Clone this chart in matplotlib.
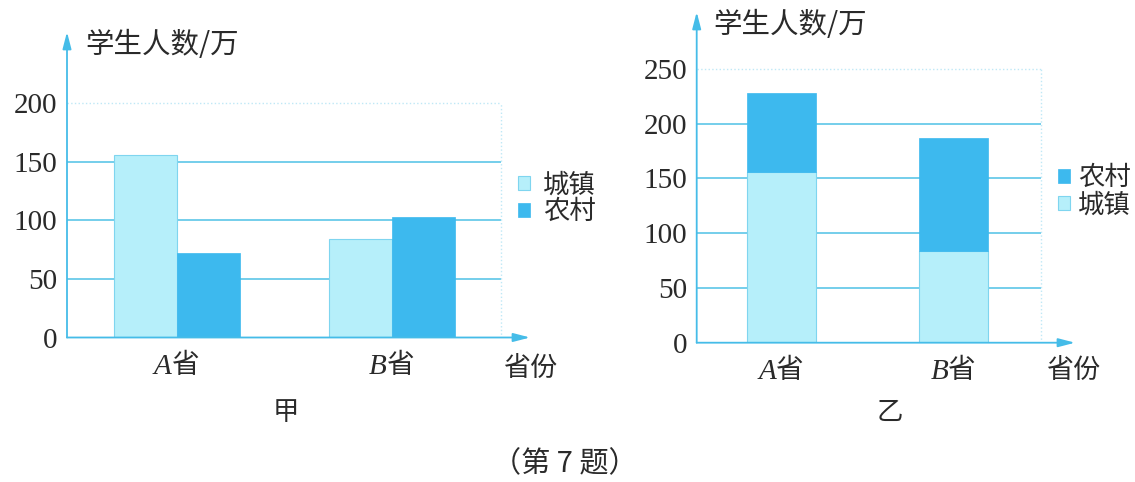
import matplotlib
matplotlib.use("Agg")
import matplotlib.pyplot as plt

plt.rcParams['font.family'] = ['Liberation Serif', 'Noto Sans CJK SC']

# ---- data ----
provinces = ["A", "B"]
urban = [156, 84]     # 城镇
rural = [72, 103]     # 农村
yticks_left = [0, 50, 100, 150, 200]
yticks_right = [0, 50, 100, 150, 200, 250]

# ---- style ----
W, H = 1135, 482
AXIS_C = "#45BCE8"
GRID_C = "#5CC6E8"
FAINT_C = "#BFE8F6"
LIGHT = "#B6EFFA"
LIGHT_EDGE = "#7FD5EF"
DARK = "#3DB9EE"
TXT = "#2A2A2A"
CJK = "Noto Sans CJK SC"

fig = plt.figure(figsize=(W / 100, H / 100), dpi=100)


def px_axes(x0, ytop, x1, ybot):
    return fig.add_axes([x0 / W, 1 - ybot / H, (x1 - x0) / W, (ybot - ytop) / H])


def frame(ax, xlim, ylim, grid_end, ticks):
    ax.set_xlim(*xlim)
    ax.set_ylim(*ylim)
    for s in ax.spines.values():
        s.set_visible(False)
    top = ticks[-1]
    # grid lines
    ax.hlines(ticks[1:-1], xlim[0], grid_end, color=GRID_C, lw=1.2, zorder=1)
    ax.hlines(top, xlim[0], grid_end, color=FAINT_C, lw=1.0, ls=":", zorder=1)
    ax.vlines(grid_end, 0, top, color=FAINT_C, lw=1.0, ls=":", zorder=1)
    # axes with arrows
    arr = dict(arrowstyle="-|>,head_length=0.5,head_width=0.13", color=AXIS_C,
               lw=1.3, shrinkA=0, shrinkB=0, mutation_scale=20)
    ax.annotate("", xy=(xlim[1], 0), xytext=(xlim[0], 0), arrowprops=arr,
                annotation_clip=False, zorder=5)
    ax.annotate("", xy=(xlim[0], ylim[1]), xytext=(xlim[0], 0), arrowprops=arr,
                annotation_clip=False, zorder=5)
    ax.set_yticks(ticks)
    ax.set_yticklabels([str(t) for t in ticks], fontsize=21, color=TXT)
    ax.tick_params(axis="y", length=0, pad=7)
    ax.set_xticks([])
    # category labels: italic letter + 省
    for i, p in enumerate(provinces):
        ax.annotate(p, xy=(i, 0), xytext=(-3.9, -21), textcoords="offset points",
                    ha="right", va="center", fontsize=21, style="italic",
                    family="Liberation Serif", color=TXT, annotation_clip=False)
        ax.annotate("省", xy=(i, 0), xytext=(-3.9, -20), textcoords="offset points",
                    ha="left", va="center", fontsize=20, family=CJK,
                    color=TXT, annotation_clip=False)


# ---------------- 甲: grouped bars ----------------
ax1 = px_axes(67, 32, 530, 337.5)
x = range(len(provinces))
bw = 0.293
ax1.bar([i - bw / 2 for i in x], urban, bw, color=LIGHT, edgecolor=LIGHT_EDGE,
        lw=0.8, zorder=3, label="城镇")
ax1.bar([i + bw / 2 for i in x], rural, bw, color=DARK, edgecolor=DARK,
        lw=0.5, zorder=3, label="农村")
frame(ax1, (-0.512, 1.642), (0, 260.6), 1.509, yticks_left)

# ---------------- 乙: stacked bars ----------------
ax2 = px_axes(696.7, 12, 1075, 342.7)
bw2 = 0.40
ax2.bar(list(x), urban, bw2, color=LIGHT, edgecolor=LIGHT_EDGE, lw=0.8,
        zorder=3, label="城镇")
ax2.bar(list(x), rural, bw2, bottom=urban, color=DARK, edgecolor=DARK, lw=0.5,
        zorder=3, label="农村")
frame(ax2, (-0.494, 1.705), (0, 302), 1.508, yticks_right)

# ---- legends ----
h1, l1 = ax1.get_legend_handles_labels()
fig.legend(h1, l1, loc="upper left", bbox_to_anchor=(505 / W, 1 - 158 / H),
           frameon=False, prop={"family": CJK, "size": 19}, handlelength=0.45,
           handleheight=0.45, handletextpad=0.5, labelspacing=0.0,
           borderpad=0, labelcolor=TXT)
h2, l2 = ax2.get_legend_handles_labels()
fig.legend(h2[::-1], l2[::-1], loc="upper left",
           bbox_to_anchor=(1045 / W, 1 - 151 / H), frameon=False,
           prop={"family": CJK, "size": 19}, handlelength=0.45, handleheight=0.45,
           handletextpad=0.3, labelspacing=0.0, borderpad=0, labelcolor=TXT)

# ---- texts ----
def ftext(px, py, s, **kw):
    fig.text(px / W, 1 - py / H, s, color=TXT, family=CJK, **kw)

ftext(85, 45, "学生人数/万", fontsize=20.5, ha="left", va="center")
ftext(713, 25, "学生人数/万", fontsize=20.5, ha="left", va="center")
ftext(503, 368, "省份", fontsize=19.5, ha="left", va="center")
ftext(1046, 370, "省份", fontsize=19.5, ha="left", va="center")
ftext(286, 413, "甲", fontsize=19, ha="center", va="center")
ftext(890, 412, "乙", fontsize=19, ha="center", va="center")
ftext(565, 464, "（第 7 题）", fontsize=21, ha="center", va="center")

fig.savefig("out.png", dpi=100)
